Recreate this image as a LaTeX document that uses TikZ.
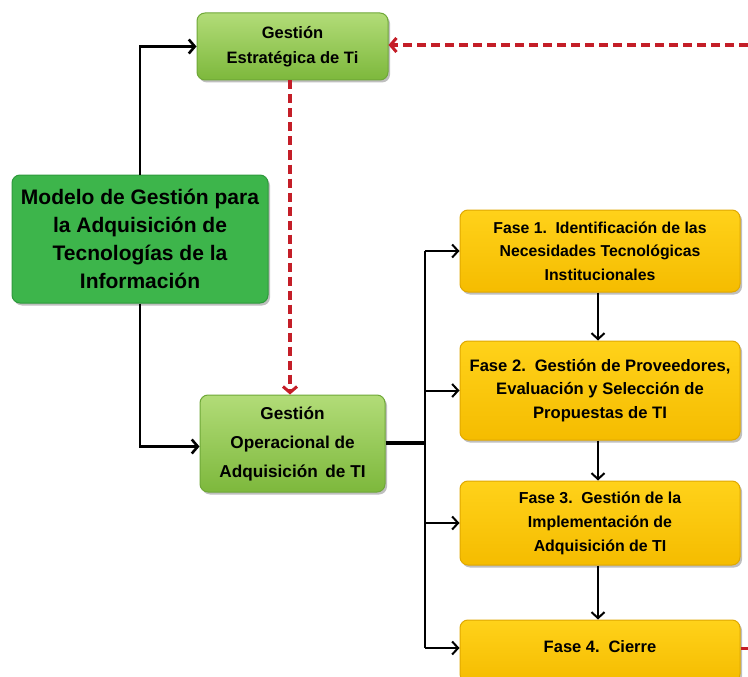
\documentclass[tikz,border=0pt]{standalone}
\usepackage{fontspec}
\setmainfont{Liberation Sans}
\usetikzlibrary{arrows.meta,shadows}
\definecolor{lgtop}{HTML}{B2DC78}
\definecolor{lgbot}{HTML}{7DB83C}
\definecolor{lgdraw}{HTML}{6FA838}
\definecolor{dgfill}{HTML}{3DB54B}
\definecolor{dgdraw}{HTML}{2E9A3C}
\definecolor{ytop}{HTML}{FFD21A}
\definecolor{ybot}{HTML}{F5BC00}
\definecolor{ydraw}{HTML}{E0A800}
\definecolor{dred}{HTML}{C41E28}
\tikzset{
  base/.style={rounded corners=8pt, align=center, font=\bfseries, inner sep=1pt,
    drop shadow={shadow xshift=2pt, shadow yshift=-2.5pt, fill=black!50, opacity=0.5}},
  lgbox/.style={base, top color=lgtop, bottom color=lgbot, draw=lgdraw, line width=1pt},
  dgbox/.style={base, fill=dgfill, draw=dgdraw, line width=1pt},
  ybox/.style={base, top color=ytop, bottom color=ybot, draw=ydraw, line width=1pt,
    minimum width=280pt},
  conn/.style={line width=2.6pt, -{Straight Barb[length=6pt,width=14pt,line width=2.6pt]}},
  fconn/.style={line width=2pt, -{Straight Barb[length=6pt,width=13pt,line width=2pt]}},
  rconn/.style={line width=3.2pt, dred, dash pattern=on 9pt off 5pt,
    -{Straight Barb[length=6pt,width=14pt,line width=3pt]}}
}
\begin{document}
\begin{tikzpicture}[x=1pt,y=-1pt]
\useasboundingbox (0,0) rectangle (748,677);
\fill[white] (0,0) rectangle (748,677);

\node[lgbox, minimum width=191pt, minimum height=67pt, font=\bfseries\fontsize{16.5}{25}\selectfont]
  (est) at (292.5,46.5) {Gestión\\Estratégica de Ti};
\node[dgbox, minimum width=256pt, minimum height=128pt, font=\bfseries\fontsize{21}{28}\selectfont]
  (mod) at (140,239) {Modelo de Gestión para\\la Adquisición de\\Tecnologías de la\\Información};
\node[lgbox, minimum width=185pt, minimum height=97pt, font=\bfseries\fontsize{17.2}{29}\selectfont]
  (ope) at (292.5,443.5) {Gestión\\Operacional de\\Adquisición\, de TI};

\node[ybox, minimum height=82pt, font=\bfseries\fontsize{15.8}{23.5}\selectfont]
  (f1) at (600,251) {Fase 1.\, Identificación de las\\Necesidades Tecnológicas\\Institucionales};
\node[ybox, minimum height=99pt, font=\bfseries\fontsize{16.6}{23.5}\selectfont]
  (f2) at (600,390.5) {Fase 2.\, Gestión de Proveedores,\\Evaluación y Selección de\\Propuestas de TI};
\node[ybox, minimum height=84pt, font=\bfseries\fontsize{15.9}{24}\selectfont]
  (f3) at (600,523) {Fase 3.\, Gestión de la\\Implementación de\\Adquisición de TI};
\node[ybox, minimum height=62pt, font=\bfseries\fontsize{16.5}{23}\selectfont, text depth=8pt]
  (f4) at (600,651) {Fase 4.\, Cierre};

% left connectors
\draw[conn] (mod.north) |- (est.west);
\draw[conn] (mod.south) |- ([yshift=-3pt]ope.west);

% red dashed
\coordinate (redr) at (748,45);
\draw[rconn] (redr) -- (redr -| est.east);
\draw[rconn] (est.south -| 290,0) -- (ope.north -| 290,0);
\coordinate (stub) at (748,648);
\draw[line width=3pt, dred] (stub -| f4.east) -- (stub);

% branch
\coordinate (bus) at (425,443);
\draw[line width=4.5pt] (ope.east |- bus) -- (bus);
\draw[line width=2.2pt] (bus |- f1.west) -- (bus |- 0,648);
\draw[fconn] (bus |- f1.west) -- (f1.west);
\draw[fconn] (bus |- f2.west) -- (f2.west);
\draw[fconn] (bus |- f3.west) -- (f3.west);
\draw[fconn] (bus |- 0,648) -- (f4.west |- 0,648);

% vertical phase arrows
\draw[fconn] (f1.south -| 598,0) -- (f2.north -| 598,0);
\draw[fconn] (f2.south -| 598,0) -- (f3.north -| 598,0);
\draw[fconn] (f3.south -| 598,0) -- (f4.north -| 598,0);
\end{tikzpicture}
\end{document}
